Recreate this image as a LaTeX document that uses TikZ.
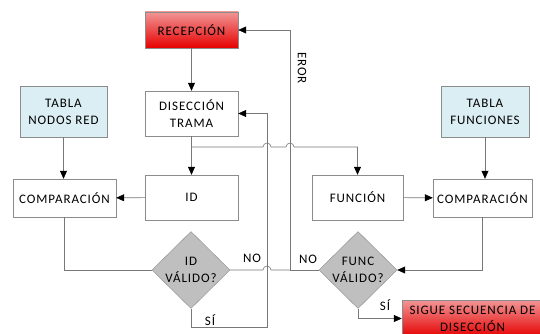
\documentclass[tikz,border=0pt]{standalone}
\usepackage{fontspec}
\setmainfont{Carlito}[LetterSpace=7]
\usetikzlibrary{shapes.geometric,arrows.meta}
\definecolor{borde}{RGB}{140,140,140}
\definecolor{linea}{RGB}{120,120,120}
\definecolor{azulclaro}{RGB}{219,238,243}
\definecolor{gris}{RGB}{191,191,191}
\definecolor{rojoarriba}{RGB}{241,150,150}
\definecolor{rojoabajo}{RGB}{230,0,0}
\begin{document}
\begin{tikzpicture}[x=1pt,y=-1pt,
  box/.style={draw=borde, rectangle, inner sep=0pt, align=center, font=\fontsize{13}{17}\selectfont},
  tabla/.style={box, fill=azulclaro},
  rojo/.style={box, top color=rojoarriba, bottom color=rojoabajo},
  decision/.style={draw=borde, diamond, aspect=1, fill=gris, inner sep=0pt, align=center, font=\fontsize{13}{17}\selectfont},
  conn/.style={draw=linea, semithick},
  flecha/.style={conn, -{Triangle[black,length=8pt,width=7pt]}},
  etiq/.style={font=\fontsize{13}{17}\selectfont, inner sep=0pt}]
\useasboundingbox (0,0) rectangle (540,334);

\node (recep) at (191.5,30) [rojo, minimum width=93pt, minimum height=36pt] {RECEPCIÓN};
\node (disec) at (191.5,113.5) [box, minimum width=93pt, minimum height=45pt] {DISECCIÓN\\TRAMA};
\node (nodos) at (63.5,111.5) [tabla, minimum width=87pt, minimum height=51pt] {TABLA\\NODOS RED};
\node (compI) at (64.5,198) [box, minimum width=103pt, minimum height=38pt] {COMPARACIÓN};
\node (id) at (191.5,197.5) [box, minimum width=93pt, minimum height=45pt] {ID};
\node (idval) at (191,270) [decision, minimum width=78pt, minimum height=77pt] {ID\\VÁLIDO?};
\node (func) at (357.5,197.5) [box, minimum width=91pt, minimum height=45pt] {FUNCIÓN};
\node (compD) at (482.5,198) [box, minimum width=99pt, minimum height=38pt] {COMPARACIÓN};
\node (funcs) at (485,111.5) [tabla, minimum width=88pt, minimum height=51pt] {TABLA\\FUNCIONES};
\node (funcval) at (358,270) [decision, minimum width=78pt, minimum height=77pt] {FUNC\\VÁLIDO?};
\node (sigue) at (472.5,318.5) [rojo, minimum width=141pt, minimum height=37pt] {SIGUE SECUENCIA DE\\DISECCIÓN};

\coordinate (rama) at (191.5,147);
\coordinate (error) at (290,270);
\coordinate (vuelta) at (267,327);

\draw[flecha] (recep) to (disec);
\draw[flecha] (disec) to (id);
\draw[flecha] (rama) -- (263,147) arc (180:360:4) -- (286,147) arc (180:360:4) -- (func.north |- rama) -- (func.north);
\draw[flecha] (nodos.south) -- (nodos.south |- compI.north);
\draw[flecha] (id) to (compI);
\draw[conn] (compI.south) |- (idval.west);
\draw[conn] (idval.east) -- (263,270) arc (180:360:4) -- (error);
\draw[flecha] (funcval.west) -- (error) |- (recep.east);
\draw[flecha] (idval.south) |- (vuelta) |- (disec.east);
\draw[flecha] (funcs.south) -- (funcs.south |- compD.north);
\draw[flecha] (func) to (compD);
\draw[flecha] (compD.south) |- (funcval.east);
\draw[flecha] (funcval.south) |- (sigue.west);

\node (no1) at (252,258) [etiq] {NO};
\node (no2) at (308,259) [etiq] {NO};
\node (si1) at (210,320) [etiq] {SÍ};
\node (si2) at (385,305) [etiq] {SÍ};
\node (eror) at (302,68) [etiq, rotate=-90] {EROR};
\end{tikzpicture}
\end{document}
